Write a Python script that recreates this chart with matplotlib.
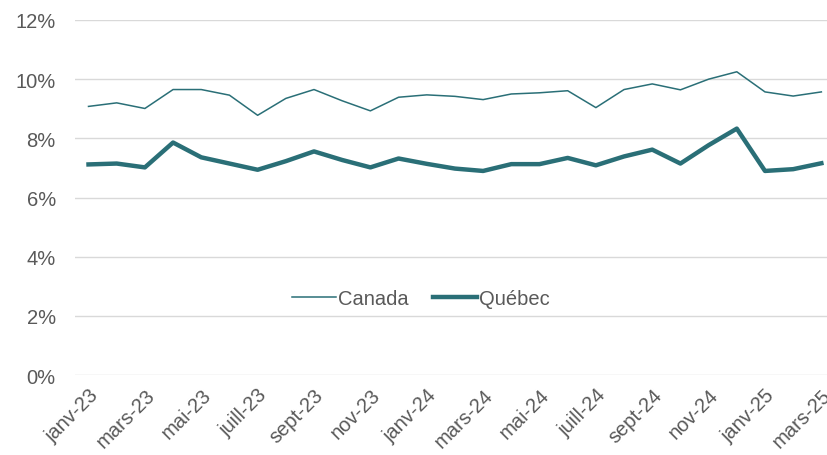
import matplotlib
matplotlib.use("Agg")
import matplotlib.pyplot as plt
from matplotlib.ticker import FuncFormatter

plt.rcParams["font.family"] = ["Liberation Sans", "DejaVu Sans"]

months = [
    "janv-23", "févr-23", "mars-23", "avr-23", "mai-23", "juin-23", "juill-23",
    "août-23", "sept-23", "oct-23", "nov-23", "déc-23",
    "janv-24", "févr-24", "mars-24", "avr-24", "mai-24", "juin-24", "juill-24",
    "août-24", "sept-24", "oct-24", "nov-24", "déc-24",
    "janv-25", "févr-25", "mars-25",
]
canada = [9.08, 9.20, 9.01, 9.65, 9.65, 9.46, 8.78, 9.35, 9.65, 9.27, 8.93, 9.39,
          9.47, 9.42, 9.31, 9.50, 9.54, 9.61, 9.04, 9.65, 9.84, 9.64, 10.0, 10.25,
          9.57, 9.43, 9.57]
quebec = [7.12, 7.15, 7.02, 7.86, 7.36, 7.15, 6.94, 7.23, 7.56, 7.27, 7.02, 7.32,
          7.14, 6.98, 6.90, 7.13, 7.13, 7.34, 7.09, 7.39, 7.62, 7.15, 7.77, 8.33,
          6.90, 6.96, 7.16]

COLOR = "#2a6f77"
TEXT = "#595959"

fig = plt.figure(figsize=(8.27, 4.56), dpi=100)
ax = fig.add_axes([0.091, 0.175, 0.909, 0.779])

x = list(range(len(months)))
ax.plot(x, canada, color=COLOR, lw=1.1, label="Canada")
ax.plot(x, quebec, color=COLOR, lw=3.2, label="Québec")

ax.set_ylim(0, 12)
ax.set_yticks(range(0, 13, 2))
ax.yaxis.set_major_formatter(FuncFormatter(lambda v, _: f"{v:.0f}%"))
ax.set_xlim(-0.47, 26.2)
ax.set_xticks(x[::2])
ax.set_xticklabels(months[::2], rotation=45, ha="right", rotation_mode="anchor")

ax.grid(axis="y", color="#d9d9d9", lw=1)
ax.set_axisbelow(True)
for s in ax.spines.values():
    s.set_visible(False)
ax.tick_params(length=0, labelsize=14.5, colors=TEXT)
ax.tick_params(axis="y", pad=14)
ax.tick_params(axis="x", pad=7)

ax.legend(loc="center", bbox_to_anchor=(0.46, 0.215), ncol=2, frameon=False,
          fontsize=14.5, labelcolor=TEXT, handlelength=2.2, handletextpad=0.1,
          columnspacing=1.2)

fig.savefig("out.png", dpi=100)
